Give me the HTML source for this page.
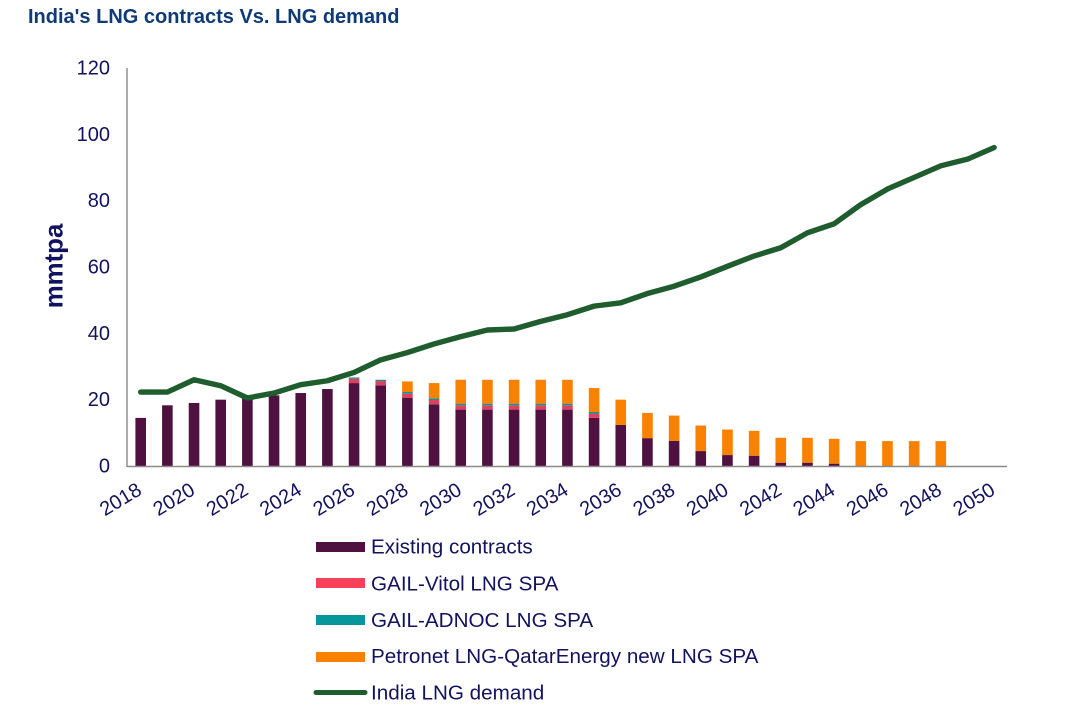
<!DOCTYPE html>
<html>
<head>
<meta charset="utf-8">
<style>
html,body{margin:0;padding:0;background:#fff;}
#wrap{position:relative;width:1067px;height:707px;overflow:hidden;background:#fff;font-family:"Liberation Sans",sans-serif;}
svg text{font-family:"Liberation Sans",sans-serif;}
</style>
</head>
<body>
<div id="wrap">
<svg id="chart" width="1067" height="707" viewBox="0 0 1067 707">
  <text x="28" y="23" font-size="20" font-weight="700" fill="#0f3a78">India's LNG contracts Vs. LNG demand</text>
  <text transform="translate(62.5,266) rotate(-90)" text-anchor="middle" font-size="25.8" font-weight="700" fill="#12125f">mmtpa</text>
  <g id="yTicks"></g>
  <g id="bars"></g>
  <line x1="127" y1="68" x2="127" y2="467" stroke="#8a8a8a" stroke-width="1.4"></line>
  <line x1="127" y1="466.5" x2="1007" y2="466.5" stroke="#8a8a8a" stroke-width="1.4"></line>
  <path id="demandLine" fill="none" stroke="#1f5c2e" stroke-width="5.4" stroke-linecap="round" stroke-linejoin="round"></path>
  <g id="xTicks"></g>

  <g>
    <g>
      <rect x="316" y="542" width="49" height="10" fill="#4f1240"></rect>
      <text x="371" y="553.5" font-size="20.65" fill="#12125f">Existing contracts</text>
    </g>
    <g>
      <rect x="316" y="578" width="49" height="10" fill="#f8405a"></rect>
      <text x="371" y="590.5" font-size="20.65" fill="#12125f">GAIL-Vitol LNG SPA</text>
    </g>
    <g>
      <rect x="316" y="615" width="49" height="10" fill="#06979a"></rect>
      <text x="371" y="627" font-size="20.65" fill="#12125f">GAIL-ADNOC LNG SPA</text>
    </g>
    <g>
      <rect x="316" y="652" width="49" height="10" fill="#f98100"></rect>
      <text x="371" y="663" font-size="20.65" fill="#12125f">Petronet LNG-QatarEnergy new LNG SPA</text>
    </g>
    <g>
      <line x1="316" y1="692.5" x2="365" y2="692.5" stroke="#1f5c2e" stroke-width="5" stroke-linecap="round"></line>
      <text x="371" y="699.5" font-size="20.65" fill="#12125f">India LNG demand</text>
    </g>
  </g>
</svg>
</div>
<script>
const years = [2018,2019,2020,2021,2022,2023,2024,2025,2026,2027,2028,2029,2030,2031,2032,2033,2034,2035,2036,2037,2038,2039,2040,2041,2042,2043,2044,2045,2046,2047,2048,2049,2050];
const existingContracts = [14.5,18.3,19,20,20.5,21.3,22,23.2,25,24.3,20.5,18.6,17,17,17,17,17,14.5,12.4,8.4,7.6,4.5,3.3,3.1,1,1,0.7,0,0,0,0,0,0];
const gailVitol = [0,0,0,0,0,0,0,0,1.3,1.3,1.3,1.3,1.3,1.3,1.3,1.3,1.3,1.3,0,0,0,0,0,0,0,0,0,0,0,0,0,0,0];
const gailAdnoc = [0,0,0,0,0,0,0,0,0.4,0.4,0.5,0.5,0.5,0.5,0.5,0.5,0.5,0.5,0,0,0,0,0,0,0,0,0,0,0,0,0,0,0];
const petronetQatar = [0,0,0,0,0,0,0,0,0,0,3.2,4.6,7.2,7.2,7.2,7.2,7.2,7.2,7.6,7.6,7.6,7.7,7.7,7.5,7.5,7.5,7.5,7.5,7.5,7.5,7.5,0,0];
const indiaDemand = [22.3,22.3,26,24.2,20.5,22,24.5,25.7,28.2,32,34.2,36.8,39,41,41.3,43.6,45.6,48.2,49.2,52,54.2,57,60.2,63.3,65.8,70.3,73,78.8,83.5,87,90.5,92.5,96];
const yTickLabels = [0,20,40,60,80,100,120];
const xTickLabels = [2018,2020,2022,2024,2026,2028,2030,2032,2034,2036,2038,2040,2042,2044,2046,2048,2050];

const NS = 'http://www.w3.org/2000/svg';
const xScale = function(year){ return 140.7 + (year - 2018) * 26.67; };
const yScale = function(v){ return 466 - v * 3.317; };
const barWidth = 10.6;

const yG = document.getElementById('yTicks');
yTickLabels.forEach(function(v){
  const t = document.createElementNS(NS,'text');
  t.setAttribute('x', 110);
  t.setAttribute('y', yScale(v) + 6.5);
  t.setAttribute('text-anchor','end');
  t.setAttribute('font-size','20');
  t.setAttribute('fill','#12125f');
  
  
  t.textContent = v;
  yG.appendChild(t);
});

const xG = document.getElementById('xTicks');
xTickLabels.forEach(function(y){
  const t = document.createElementNS(NS,'text');
  const px = xScale(y) - 19.5;
  const py = 500.5;
  t.setAttribute('transform','translate(' + px + ',' + py + ') rotate(-31)');
  t.setAttribute('text-anchor','middle');
  t.setAttribute('dominant-baseline','middle');
  t.setAttribute('font-size','20');
  t.setAttribute('fill','#12125f');
  
  
  t.textContent = y;
  xG.appendChild(t);
});

const stackSeries = [existingContracts, gailVitol, gailAdnoc, petronetQatar];
const stackColors = ['#4f1240','#e0405f','#17908e','#f98100'];
const barsG = document.getElementById('bars');
years.forEach(function(year, i){
  let base = 0;
  stackSeries.forEach(function(series, s){
    const v = series[i];
    if (v > 0) {
      const r = document.createElementNS(NS,'rect');
      r.setAttribute('x', xScale(year) - barWidth / 2);
      r.setAttribute('y', yScale(base + v));
      r.setAttribute('width', barWidth);
      r.setAttribute('height', yScale(base) - yScale(base + v));
      r.setAttribute('fill', stackColors[s]);
      
      
      barsG.appendChild(r);
    }
    base += v;
  });
});

let d = '';
years.forEach(function(year, i){
  d += (i === 0 ? 'M' : 'L') + xScale(year).toFixed(2) + ' ' + yScale(indiaDemand[i]).toFixed(2) + ' ';
});
document.getElementById('demandLine').setAttribute('d', d);
</script>
</body>
</html>
